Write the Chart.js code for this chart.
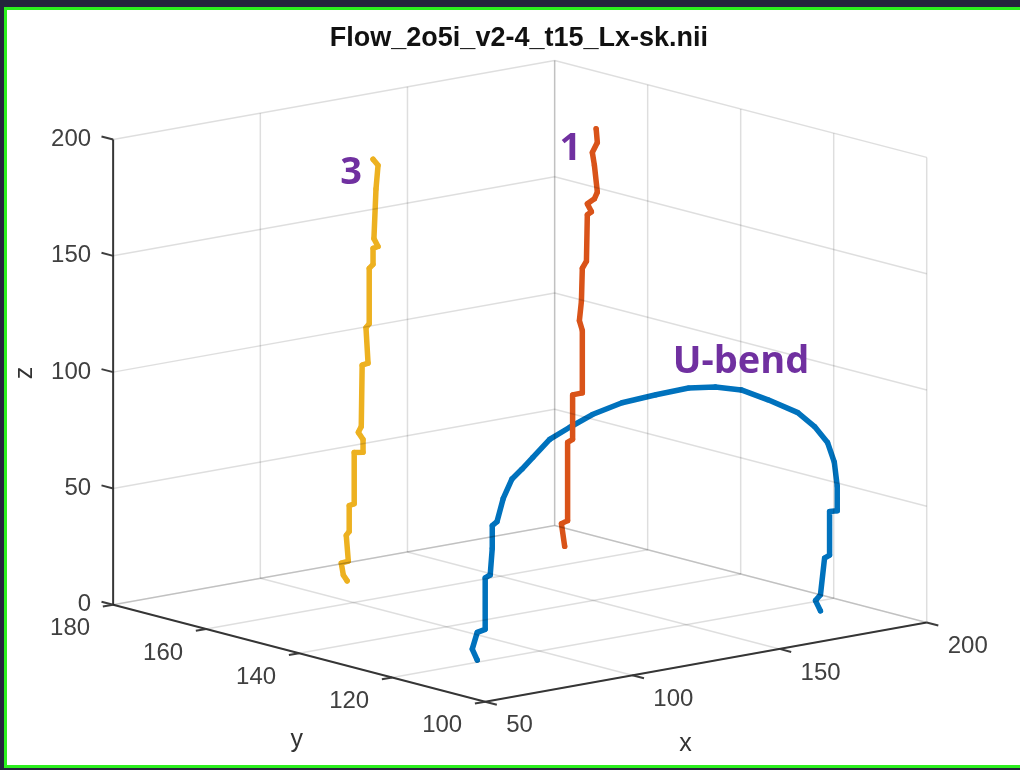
<!DOCTYPE html>
<html>
<head>
<meta charset="utf-8">
<script src="https://cdn.jsdelivr.net/npm/chart.js@4.4.1/dist/chart.umd.min.js"></script>
<style>
  html, body { margin: 0; padding: 0; background: #24243c; }
  #wrap { width: 1020px; height: 770px; }
</style>
</head>
<body>
<div id="wrap"><canvas id="flowchart" width="1020" height="770"></canvas></div>
<script>
// axis limits and ticks
var xTicks = [50, 100, 150, 200];
var yTicks = [100, 120, 140, 160, 180];
var zTicks = [0, 50, 100, 150, 200];

// U-bend (blue)
var ubendX = [71.0, 69.3, 71.0, 73.7, 73.7, 75.4, 76.1, 76.1, 77.7, 79.8, 82.8, 86.2, 89.9, 95.6, 102.3, 110.1, 120.2,
              131.7, 142.8, 151.9, 160.7, 169.8, 179.9, 185.6, 190.0, 192.3, 193.3, 193.3, 190.7, 190.7, 189.0, 187.6, 185.9, 187.6];
var ubendY = [115, 115, 115, 115, 115, 115, 115, 115, 115, 115, 115, 115, 115, 115, 115, 115, 115,
              115, 115, 115, 115, 115, 115, 115, 115, 115, 115, 115, 115, 115, 115, 115, 115, 115];
var ubendZ = [5.3, 10.4, 17.2, 17.9, 40.0, 40.9, 52.2, 62.0, 63.3, 72.7, 80.5, 84.0, 88.2, 94.6, 98.2, 102.0, 104.8,
              105.6, 106.0, 104.4, 101.1, 94.8, 87.0, 79.7, 71.9, 62.9, 52.4, 41.8, 42.0, 23.3, 22.4, 6.9, 4.8, 0];

// vessel 1 (orange)
var v1X = [171.8, 170.7, 172.8, 172.8, 174.5, 174.5, 177.8, 177.8, 176.8, 177.5, 177.8, 179.2, 179.5, 180.9, 179.5, 181.9, 182.9, 181.9, 181.2, 182.9, 182.5];
var v1Y = [160, 160, 160, 160, 160, 160, 160, 160, 160, 160, 160, 160, 160, 160, 160, 160, 160, 160, 160, 160, 160];
var v1Z = [7.9, 17.9, 18.7, 52.4, 53.3, 72.4, 72.5, 99.3, 103.8, 112.1, 126.1, 128.8, 148.7, 149.7, 153.4, 155.0, 157.7, 169.5, 175.1, 179.0, 185.0];

// vessel 3 (yellow)
var v3X = [97.9, 96.6, 95.9, 98.3, 97.6, 98.6, 98.6, 100.3, 100.3, 103.3, 103.3, 101.7, 102.7, 103.0, 105.0, 104.3, 105.4, 105.4, 106.7, 106.7, 108.4, 107.0, 107.7, 108.4, 106.7];
var v3Y = [160, 160, 160, 160, 160, 160, 160, 160, 160, 160, 160, 160, 160, 160, 160, 160, 160, 160, 160, 160, 160, 160, 160, 160, 160];
var v3Z = [9.8, 12.6, 17.9, 18.2, 29.4, 30.9, 42.0, 42.4, 64.5, 63.9, 69.4, 72.8, 75.1, 101.4, 101.8, 117.2, 118.7, 142.5, 143.9, 150.8, 151.2, 154.9, 176.1, 186.1, 189.1];

// fixed 3-D view (orthographic), screen units = canvas pixels
var xMin = 50, xMax = 200, yMin = 100, yMax = 180, zMin = 0, zMax = 200;
var view = { ox: 485, oy: 705, exx: 2.9667, exy: -0.5333, eyx: -4.6875, eyy: -1.225, ez: -2.35 };

function project(x, y, z) {
  return {
    x: view.ox + (x - xMin) * view.exx + (y - yMin) * view.eyx,
    y: view.oy + (x - xMin) * view.exy + (y - yMin) * view.eyy + (z - zMin) * view.ez
  };
}

function series(xs, ys, zs) {
  var out = [];
  for (var i = 0; i < xs.length; i++) out.push(project(xs[i], ys[i], zs[i]));
  return out;
}

var datasets = [];
var gridColor = 'rgba(0,0,0,0.13)';
var axisColor = '#3d3d3d';

function seg(a, b, color, width) {
  datasets.push({
    data: [project(a[0], a[1], a[2]), project(b[0], b[1], b[2])],
    showLine: true, borderColor: color, borderWidth: width, pointRadius: 0, fill: false
  });
}

// floor grid
xTicks.forEach(function (v) { seg([v, yMin, zMin], [v, yMax, zMin], gridColor, 1.5); });
yTicks.forEach(function (v) { seg([xMin, v, zMin], [xMax, v, zMin], gridColor, 1.5); });
// back wall (y = yMax)
xTicks.forEach(function (v) { seg([v, yMax, zMin], [v, yMax, zMax], gridColor, 1.5); });
zTicks.forEach(function (v) { seg([xMin, yMax, v], [xMax, yMax, v], gridColor, 1.5); });
// side wall (x = xMax)
yTicks.forEach(function (v) { seg([xMax, v, zMin], [xMax, v, zMax], gridColor, 1.5); });
zTicks.forEach(function (v) { seg([xMax, yMin, v], [xMax, yMax, v], gridColor, 1.5); });

// axes
seg([xMin, yMax, zMin], [xMin, yMax, zMax], axisColor, 2);
seg([xMin, yMin, zMin], [xMin, yMax, zMin], axisColor, 2);
seg([xMin, yMin, zMin], [xMax, yMin, zMin], axisColor, 2);
zTicks.forEach(function (v) { seg([xMin, yMax, v], [xMin, yMax + 2.5, v], axisColor, 2); });
yTicks.forEach(function (v) { seg([xMin, v, zMin], [xMin - 3.5, v, zMin], axisColor, 2); });
xTicks.forEach(function (v) { seg([v, yMin, zMin], [v, yMin - 2.5, zMin], axisColor, 2); });

function curve(data, color) {
  datasets.push({
    data: data, showLine: true, borderColor: color, backgroundColor: color,
    borderWidth: 5.5, borderCapStyle: 'round', borderJoinStyle: 'round',
    pointRadius: 2.6, pointBorderWidth: 0, fill: false
  });
}
curve(series(v3X, v3Y, v3Z), '#EDB120');
curve(series(v1X, v1Y, v1Z), '#D95319');
curve(series(ubendX, ubendY, ubendZ), '#0072BD');

var decor = {
  id: 'decor',
  beforeDraw: function (chart) {
    var c = chart.ctx;
    c.save();
    c.fillStyle = '#24243c';
    c.fillRect(0, 0, 1020, 770);
    c.fillStyle = '#2cf01e';
    c.fillRect(4, 7, 1016, 761);
    c.fillStyle = '#ffffff';
    c.fillRect(7, 10, 1013, 755);
    c.restore();
  },
  afterDraw: function (chart) {
    var c = chart.ctx, sx = chart.scales.x, sy = chart.scales.y;
    function px(p) { return { x: sx.getPixelForValue(p.x), y: sy.getPixelForValue(p.y) }; }
    c.save();
    c.fillStyle = '#404040';
    c.font = '24px "Liberation Sans", Arial, sans-serif';
    c.textBaseline = 'middle';
    // z tick labels
    c.textAlign = 'right';
    zTicks.forEach(function (v) {
      var p = px(project(xMin, yMax, v));
      c.fillText(String(v), p.x - 22, p.y);
    });
    // y tick labels
    yTicks.forEach(function (v) {
      var p = px(project(xMin, v, zMin));
      c.fillText(String(v), p.x - 23, p.y + 24);
    });
    // x tick labels
    c.textAlign = 'left';
    xTicks.forEach(function (v) {
      var p = px(project(v, yMin, zMin));
      c.fillText(String(v), p.x + 21, p.y + 24);
    });
    // axis names
    c.fillStyle = '#333333';
    c.font = '25px "Liberation Sans", Arial, sans-serif';
    c.textAlign = 'center';
    c.fillText('y', sx.getPixelForValue(295), sy.getPixelForValue(744));
    c.fillText('x', sx.getPixelForValue(687), sy.getPixelForValue(748));
    c.save();
    c.translate(sx.getPixelForValue(21), sy.getPixelForValue(373));
    c.rotate(-Math.PI / 2);
    c.fillText('z', 0, 0);
    c.restore();
    // title
    c.fillStyle = '#111111';
    c.font = 'bold 27px "Liberation Sans", Arial, sans-serif';
    c.textBaseline = 'alphabetic';
    c.fillText('Flow_2o5i_v2-4_t15_Lx-sk.nii', sx.getPixelForValue(519), sy.getPixelForValue(42));
    // labels on the vessels
    c.fillStyle = '#7030A0';
    c.font = 'bold 38px "Open Sans", sans-serif';
    c.textAlign = 'left';
    c.fillText('3', sx.getPixelForValue(339), sy.getPixelForValue(182));
    c.fillText('1', sx.getPixelForValue(560), sy.getPixelForValue(158));
    c.fillText('U-bend', sx.getPixelForValue(674), sy.getPixelForValue(373));
    c.restore();
  }
};

new Chart(document.getElementById('flowchart'), {
  type: 'scatter',
  data: { datasets: datasets },
  options: {
    responsive: false,
    animation: false,
    layout: { padding: 0 },
    scales: {
      x: { type: 'linear', min: 0, max: 1020, display: false },
      y: { type: 'linear', min: 0, max: 770, reverse: true, display: false }
    },
    plugins: { legend: { display: false }, tooltip: { enabled: false }, title: { display: false } }
  },
  plugins: [decor]
});
</script>
</body>
</html>
